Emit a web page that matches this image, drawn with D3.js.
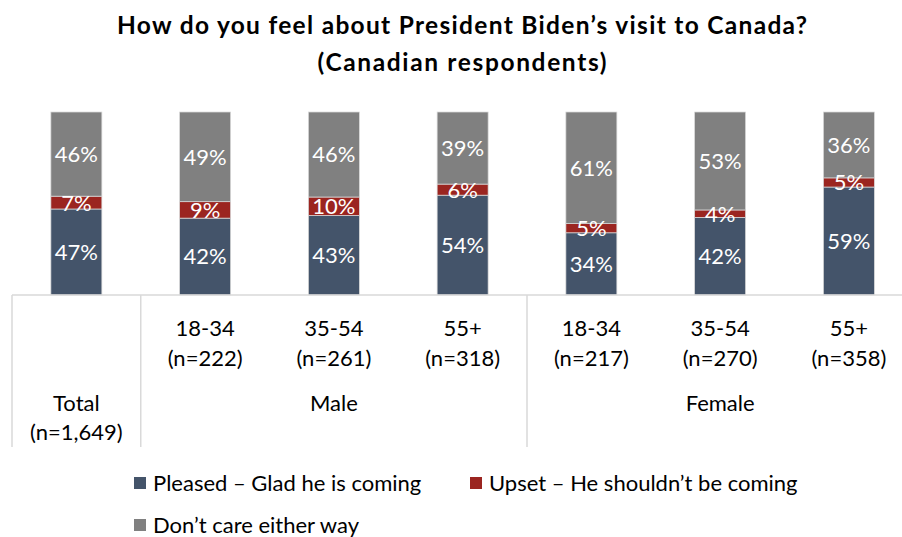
<!DOCTYPE html>
<html>
<head>
<meta charset="utf-8">
<script src="https://cdn.jsdelivr.net/npm/d3@7"></script>
<style>
  html, body { margin: 0; padding: 0; background: #fff; }
  svg { display: block; }
  text { font-family: Lato, "Open Sans", sans-serif; }
</style>
</head>
<body>
<svg id="chart" width="902" height="537"></svg>
<script>
// ---- data ----
const categories = ["Total", "Male 18-34", "Male 35-54", "Male 55+", "Female 18-34", "Female 35-54", "Female 55+"];
const ageLabels = ["", "18-34", "35-54", "55+", "18-34", "35-54", "55+"];
const sampleLabels = ["", "(n=222)", "(n=261)", "(n=318)", "(n=217)", "(n=270)", "(n=358)"];
const groups = [
  { name: "Total", sub: "(n=1,649)", from: 0, to: 0 },
  { name: "Male", sub: "", from: 1, to: 3 },
  { name: "Female", sub: "", from: 4, to: 6 }
];
const seriesNames = ["Pleased \u2013 Glad he is coming", "Upset \u2013 He shouldn\u2019t be coming", "Don\u2019t care either way"];
const pleased  = [47, 42, 43, 54, 34, 42, 59];
const upset    = [7, 9, 10, 6, 5, 4, 5];
const dontCare = [46, 49, 46, 39, 61, 53, 36];
const colors = ["#44546a", "#9b2520", "#808080"];

// ---- layout ----
const svg = d3.select("#chart");
const axisY = 295, topY = 112;
const left = 12, step = 128.75;
const fs = "22px";
const x = d3.scaleBand().domain(categories).range([left, left + step * categories.length])
  .paddingInner(0.604).paddingOuter(0.302);
const y = d3.scaleLinear().domain([0, 1]).range([axisY, topY]);

// title
const title = svg.append("g").style("font-weight", "bold").style("font-size", "24.5px");
title.append("text").attr("x", 462).attr("y", 34).attr("text-anchor", "middle")
  .attr("textLength", 690).attr("lengthAdjust", "spacing")
  .text("How do you feel about President Biden\u2019s visit to Canada?");
title.append("text").attr("x", 462).attr("y", 71).attr("text-anchor", "middle")
  .attr("textLength", 289).attr("lengthAdjust", "spacing")
  .text("(Canadian respondents)");

// stacked data (100% stacked columns)
const rows = categories.map((c, i) => ({ cat: c, s0: pleased[i], s1: upset[i], s2: dontCare[i] }));
const keys = ["s0", "s1", "s2"];
const stack = d3.stack().keys(keys).offset(d3.stackOffsetExpand)(rows);

const layers = svg.append("g").selectAll("g").data(stack).join("g")
  .attr("fill", (d, i) => colors[i]);
layers.selectAll("rect").data(d => d).join("rect")
  .attr("x", d => x(d.data.cat))
  .attr("width", x.bandwidth())
  .attr("y", d => y(d[1]))
  .attr("height", d => y(d[0]) - y(d[1]))
  .attr("stroke", "#d9d9d9").attr("stroke-width", 0.75);

// data labels (drawn above all bars)
const labels = svg.append("g");
stack.forEach(layer => {
  labels.selectAll(null).data(layer).join("text")
    .attr("x", d => x(d.data.cat) + x.bandwidth() / 2)
    .attr("y", d => (y(d[0]) + y(d[1])) / 2)
    .attr("dy", "0.36em")
    .attr("text-anchor", "middle")
    .attr("fill", "#fff")
    .style("font-size", fs)
    .text(d => d.data[layer.key] + "%");
});

// category axis (multi-level table)
const gridColor = "#d9d9d9";
const ax = svg.append("g");
ax.append("line").attr("x1", left).attr("x2", 902).attr("y1", axisY).attr("y2", axisY)
  .attr("stroke", gridColor).attr("stroke-width", 1.5);
const bounds = [left, left + step, left + step * 4];
bounds.forEach(bx => {
  ax.append("line").attr("x1", bx).attr("x2", bx).attr("y1", axisY).attr("y2", 447)
    .attr("stroke", gridColor).attr("stroke-width", 1.5);
});
categories.forEach((c, i) => {
  const cx = x(c) + x.bandwidth() / 2;
  if (ageLabels[i]) {
    ax.append("text").attr("x", cx).attr("y", 328).attr("dy", "0.36em")
      .attr("text-anchor", "middle").style("font-size", fs).attr("fill", "#000").text(ageLabels[i]);
    ax.append("text").attr("x", cx).attr("y", 358).attr("dy", "0.36em")
      .attr("text-anchor", "middle").style("font-size", fs).attr("fill", "#000").text(sampleLabels[i]);
  }
});
groups.forEach(g => {
  const cx = (x(categories[g.from]) + x(categories[g.to]) + x.bandwidth()) / 2;
  ax.append("text").attr("x", cx).attr("y", 403).attr("dy", "0.36em")
    .attr("text-anchor", "middle").style("font-size", fs).attr("fill", "#000").text(g.name);
  if (g.sub) {
    ax.append("text").attr("x", cx).attr("y", 432).attr("dy", "0.36em")
      .attr("text-anchor", "middle").style("font-size", fs).attr("fill", "#000").text(g.sub);
  }
});

// legend
const legendPos = [[134, 483], [470, 483], [134, 525]];
const legend = svg.append("g");
seriesNames.forEach((n, i) => {
  const [lx, ly] = legendPos[i];
  legend.append("rect").attr("x", lx).attr("y", ly - 6).attr("width", 12).attr("height", 12).attr("fill", colors[i]);
  legend.append("text").attr("x", lx + 19).attr("y", ly).attr("dy", "0.36em")
    .style("font-size", fs).attr("fill", "#000").text(n);
});
</script>
</body>
</html>
